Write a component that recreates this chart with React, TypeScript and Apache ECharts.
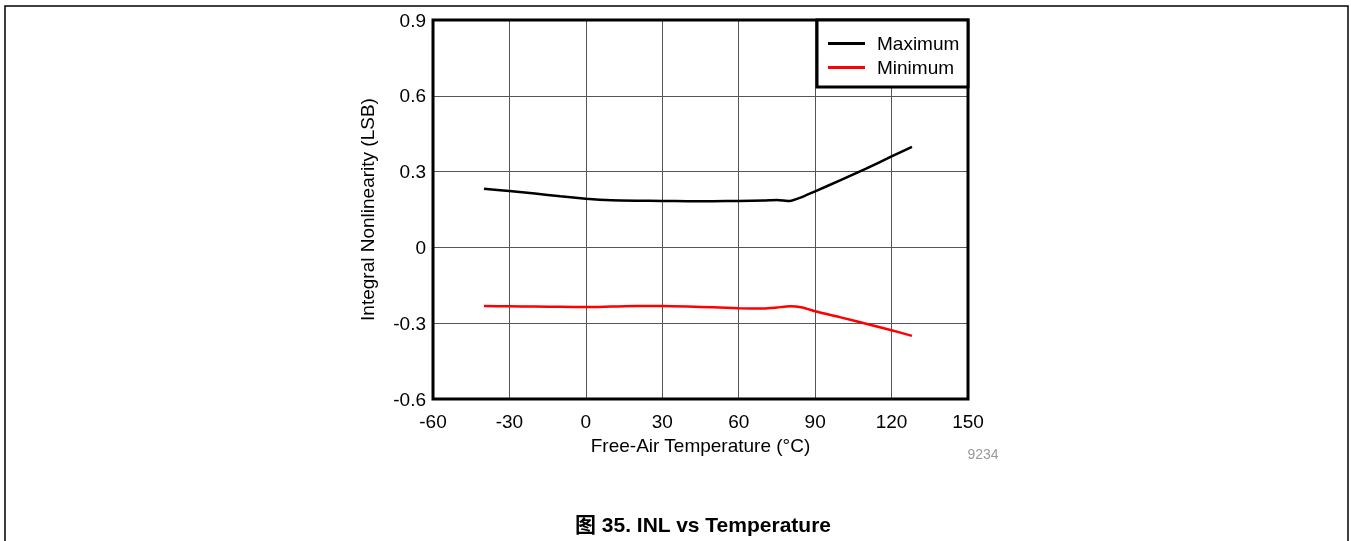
import React, { useEffect, useRef } from "react";
import * as echarts from "echarts";

const temps = [-40, -30, -20, -10, 0, 10, 20, 30, 40, 50, 60, 70, 75, 80, 85, 90, 100, 110, 120, 128];
const maxInl = [0.232, 0.223, 0.213, 0.202, 0.193, 0.187, 0.185, 0.184, 0.183, 0.183, 0.184, 0.186, 0.188, 0.184, 0.2, 0.222, 0.266, 0.312, 0.36, 0.398];
const minInl = [-0.232, -0.233, -0.234, -0.235, -0.236, -0.234, -0.232, -0.232, -0.234, -0.237, -0.241, -0.242, -0.238, -0.233, -0.238, -0.253, -0.277, -0.302, -0.328, -0.35];
const xTicks = { min: -60, max: 150, interval: 30 };
const yTicks = { min: -0.6, max: 0.9, interval: 0.3 };

const FONT = "'Liberation Sans', Arial, sans-serif";
const FS = 19;

export default function App() {
  const ref = useRef<HTMLDivElement>(null);
  useEffect(() => {
    const chart = echarts.init(ref.current!, null, { renderer: "svg" });
    chart.setOption({
      animation: false,
      textStyle: { fontFamily: FONT },
      grid: { left: 433, top: 20, width: 535, height: 379, show: true, borderColor: "#000", borderWidth: 3, backgroundColor: "transparent", z: 3 },
      xAxis: {
        type: "value",
        ...xTicks,
        name: "Free-Air Temperature (°C)",
        nameLocation: "middle",
        nameGap: 33,
        nameTextStyle: { fontSize: FS, color: "#000", fontFamily: FONT },
        axisLine: { show: false },
        axisTick: { show: false },
        axisLabel: { fontSize: FS, color: "#000", margin: 13, fontFamily: FONT },
        splitLine: { lineStyle: { color: "#555", width: 1 } },
      },
      yAxis: {
        type: "value",
        ...yTicks,
        name: "Integral Nonlinearity (LSB)",
        nameLocation: "middle",
        nameGap: 56,
        nameTextStyle: { fontSize: FS, color: "#000", fontFamily: FONT },
        axisLine: { show: false },
        axisTick: { show: false },
        axisLabel: {
          fontSize: FS,
          color: "#000",
          margin: 7,
          fontFamily: FONT,
          formatter: (v: number) => (Math.abs(v) < 1e-9 ? "0" : v.toFixed(1)),
        },
        splitLine: { lineStyle: { color: "#555", width: 1 } },
      },
      legend: {
        orient: "vertical",
        left: 823,
        top: 29,
        itemWidth: 37,
        itemHeight: 3,
        itemGap: 5,
        icon: "rect",
        z: 10,
        textStyle: { fontSize: FS, lineHeight: 19, color: "#000", fontFamily: FONT, padding: [0, 0, 0, 7] },
        data: ["Maximum", "Minimum"],
      },
      graphic: [
        {
          type: "polyline",
          z: 1,
          shape: { points: [[5, 541], [5, 6], [1348, 6], [1348, 541]] },
          style: { stroke: "#000", lineWidth: 1.5, fill: null },
        },
        {
          type: "rect",
          z: 5,
          shape: { x: 817, y: 20, width: 151, height: 67 },
          style: { fill: "#fff", stroke: "#000", lineWidth: 3 },
        },
        {
          type: "text",
          z: 5,
          x: 983,
          y: 454,
          style: { text: "9234", fill: "#999", fontSize: 14, fontFamily: FONT, textAlign: "center", textVerticalAlign: "middle" },
        },
        {
          type: "text",
          z: 5,
          x: 703,
          y: 524,
          style: { text: "图 35. INL vs Temperature", fill: "#000", fontSize: 21, fontWeight: "bold", fontFamily: "'Liberation Sans', 'Noto Sans CJK SC', sans-serif", textAlign: "center", textVerticalAlign: "middle" },
        },
      ],
      series: [
        {
          name: "Maximum",
          type: "line",
          data: temps.map((t, i) => [t, maxInl[i]]),
          showSymbol: false,
          smooth: 0.2,
          lineStyle: { color: "#000", width: 2.5 },
          itemStyle: { color: "#000" },
          z: 4,
        },
        {
          name: "Minimum",
          type: "line",
          data: temps.map((t, i) => [t, minInl[i]]),
          showSymbol: false,
          smooth: 0.2,
          lineStyle: { color: "#f00", width: 2.5 },
          itemStyle: { color: "#f00" },
          z: 4,
        },
      ],
    });
    return () => chart.dispose();
  }, []);
  return <div ref={ref} style={{ position: "fixed", left: 0, top: 0, width: 1351, height: 541 }} />;
}
